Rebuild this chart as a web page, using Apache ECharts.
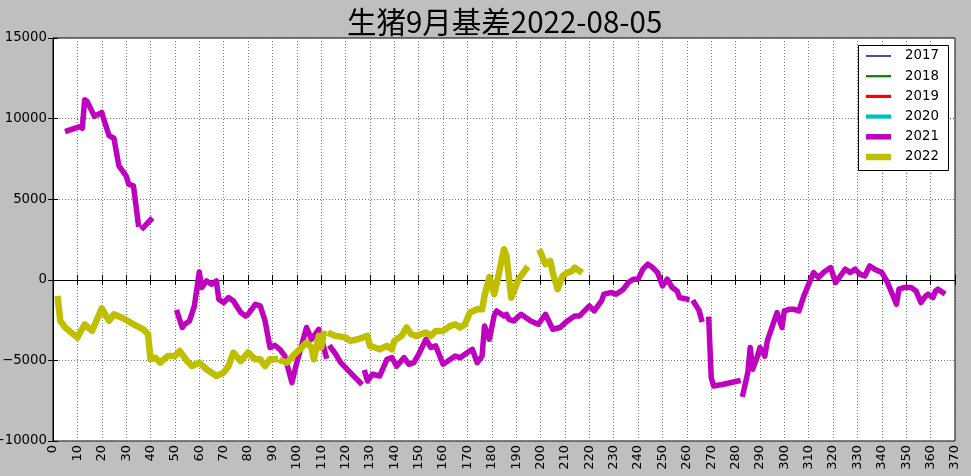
<!DOCTYPE html>
<html>
<head>
<meta charset="utf-8">
<title>生猪9月基差</title>
<script src="https://cdn.jsdelivr.net/npm/echarts@6/dist/echarts.min.js"></script>
<style>
    html, body { margin: 0; padding: 0; background: #bfbfbf; }
    #main { width: 971px; height: 476px; }
</style>
</head>
<body>
<div id="main"></div>
<script>
var titleText = '生猪9月基差2022-08-05';
var years = ['2017', '2018', '2019', '2020', '2021', '2022'];
var yearColors = ['#000080', '#008000', '#ff0000', '#00bfbf', '#bf00bf', '#bfbf00'];
var yearWidths = [1.4, 2.2, 3.2, 4.2, 5.5, 6.5];

// 2021 (null = no quote that day, line breaks)
var days2021 = [6, 11, 12, 13, 14, 17, 20, 21, 23, 25, 27, 28, 30, 31, 33, 35, 36, 37, 40, 45,
    51, 53, 54, 56, 58, 60, 61, 63, 65, 67, 68, 70, 72, 74, 77, 79, 80, 83, 85, 87, 89, 91, 93, 95, 96, 98,
    100, 104, 106, 109, 110, 112, 113, 114, 116, 118, 122, 126, 127, 128, 129, 131, 134, 137, 139, 141, 144,
    146, 148, 150, 153, 155, 157, 160, 162, 165, 167, 170, 172, 174, 176, 177, 179, 181, 182, 185, 186, 187,
    189, 192, 196, 199, 202, 205, 208, 211, 214, 216, 218, 220, 222, 225, 226, 229, 231, 234, 236, 238, 240,
    242, 244, 246, 248, 250, 252, 254, 256, 257, 260, 261, 263, 265, 266, 267, 269, 270, 271, 275, 281, 282,
    283, 285, 286, 287, 289, 290, 292, 293, 297, 299, 300, 302, 304, 306, 308, 310, 312, 314, 316, 319, 321,
    323, 325, 327, 329, 331, 333, 335, 337, 340, 342, 344, 346, 347, 349, 352, 354, 356, 358, 359, 361, 362,
    363, 365];
var basis2021 = [9250, 9500, 9400, 11170, 11070, 10140, 10390, 9870, 8940, 8780, 7070, 6870, 6450, 5940, 5830, 3450, null, 3240, 3710, null,
    -2030, -2960, -2760, -2550, -1620, 490, -480, -70, -270, -70, -1200, -1410, -1100, -1310, -2030, -2240, -2140, -1520, -1620, -2550, -4200, -4060, -4310, -4700, -5240, -6380,
    -5140, -2960, -3690, -3070, -3580, -4730, null, -4200, -4620, -5140, -5760, -6380, null, -5760, -6280, -5860, -5970, -4930, -4830, -5350, -4830,
    -5240, -5140, -4620, -3690, -4200, -4100, -5240, -5040, -4730, -4830, -4510, -4310, -5140, -4730, -2860, -3690, -2200, -1930, -2240, -2140, -2450,
    -2550, -2140, -2550, -2760, -2140, -3070, -2960, -2550, -2240, -2240, -1930, -1620, -1930, -1310, -890, -790, -890, -580, -170, 40, 40,
    660, 970, 760, 450, -380, 40, -480, -690, -1100, -1200, null, -1410, -1900, -2450, null, -2450, -6070, -6590, -6480, -6280, null,
    -7100, -5760, -4200, -5550, -4730, -4200, -4730, -3790, -2030, -2960, -1930, -1830, -1830, -1930, -1000, -270, 450, 140, 450, 760, -170,
    240, 660, 450, 660, 350, 240, 860, 660, 450, -70, -790, -1520, -580, -480, -480, -690, -1410, -1000, -890, -1100, -690,
    -580, -790];

// 2022
var days2022 = [2, 3, 5, 10, 13, 16, 20, 23, 25, 29, 33, 37, 39, 40, 42, 44, 47, 50, 52, 55, 57, 60, 63, 67, 70,
    72, 74, 77, 80, 83, 85, 87, 89, 91, 92, 94, 96, 99, 102, 104, 106, 107, 109, 110, 111, 112, 114, 116, 120,
    122, 125, 129, 130, 132, 134, 137, 139, 140, 143, 145, 147, 149, 153, 155, 157, 160, 163, 165, 167, 169,
    171, 174, 176, 177, 179, 181, 183, 185, 186, 188, 191, 194, 195, 200, 202, 204, 205, 207, 209, 211, 213,
    214, 216];
var basis2022 = [-1200, -2550, -2960, -3580, -2760, -3170, -1780, -2550, -2140, -2400, -2760, -3070, -3380, -4930, -4830, -5140, -4730, -4730, -4420, -5040, -5350, -5140, -5550, -5970, -5760,
    -5350, -4510, -5040, -4510, -4930, -4930, -5350, -4930, -4930, null, -5040, -5140, -4620, -4200, -3890, -4200, -4930, -3480, -4200, -3360, null, -3360, -3480, -3580,
    -3790, -3690, -3480, -4100, -4200, -4310, -4100, -4310, -3790, -3480, -2960, -3380, -3480, -3270, -3480, -3170, -3170, -2860, -2760, -2960, -2760,
    -2030, -1830, -1830, -1000, 170, -900, 450, 1900, 1480, -1100, 40, 660, null, 1700, 970, 1170, 450, -580, 240, 450, 550,
    760, 550];

var xMin = 0, xMax = 370, xStep = 10;
var yMin = -10000, yMax = 15000, yStep = 5000;

var seriesDays = [[], [], [], [], days2021, days2022];
var seriesBasis = [[], [], [], [], basis2021, basis2022];

function pairUp(xs, ys) {
    var out = [];
    for (var i = 0; i < xs.length; i++) {
        out.push([xs[i], ys[i] == null ? '-' : ys[i]]);
    }
    return out;
}

function fmtY(v) {
    return v < 0 ? '\u2212' + Math.abs(v) : String(v);
}

var chart = echarts.init(document.getElementById('main'));

var gridLine = { show: true, lineStyle: { color: '#7a7a7a', type: [1, 2], width: 1 } };

var series = [];
var legends = [];
for (var i = 0; i < years.length; i++) {
    series.push({
        name: years[i],
        type: 'line',
        data: pairUp(seriesDays[i], seriesBasis[i]),
        showSymbol: false,
        symbol: 'none',
        connectNulls: false,
        color: yearColors[i],
        lineStyle: { color: yearColors[i], width: yearWidths[i], cap: 'square', join: 'round' },
        emphasis: { disabled: true },
        z: 2 + i
    });
    // one legend per year so each swatch can carry its own line width
    legends.push({
        data: [years[i]],
        left: 866,
        top: 56 + 20.2 * i - 8,
        padding: 0,
        itemWidth: 25,
        itemHeight: yearWidths[i],
        icon: 'rect',
        selectedMode: false,
        textStyle: { fontFamily: 'DejaVu Sans', fontSize: 13.3, color: '#000', lineHeight: 16, padding: [0, 0, 0, 9] },
        z: 6
    });
}

var option = {
    animation: false,
    backgroundColor: '#bfbfbf',
    title: {
        text: titleText,
        left: 347,
        top: 3,
        padding: [4, 0, 4, 0],
        textStyle: { fontFamily: 'Noto Sans CJK SC', fontSize: 29.5, fontWeight: 'normal', color: '#000' }
    },
    legend: legends,
    graphic: [{
        type: 'rect',
        shape: { x: 858.5, y: 45.5, width: 90, height: 125 },
        style: { fill: '#fff', stroke: '#000', lineWidth: 1 },
        z: 5
    }],
    grid: {
        left: 53, right: 16, top: 38, bottom: 35,
        show: true, backgroundColor: '#fff', borderColor: '#000', borderWidth: 1,
        outerBoundsMode: 'none'
    },
    xAxis: [{
        type: 'value', min: xMin, max: xMax, interval: xStep,
        axisLine: { lineStyle: { color: '#000' } },
        axisTick: { inside: true, length: 5, lineStyle: { color: '#000' } },
        axisLabel: { rotate: 90, margin: 4, fontFamily: 'DejaVu Sans', fontSize: 13, color: '#000',
            showMinLabel: true, showMaxLabel: true, hideOverlap: false },
        splitLine: gridLine
    }, {
        type: 'value', position: 'top', min: xMin, max: xMax, interval: xStep,
        axisLine: { lineStyle: { color: '#000' } },
        axisTick: { inside: true, length: 5, lineStyle: { color: '#000' } },
        axisLabel: { show: false },
        splitLine: { show: false }
    }],
    yAxis: [{
        type: 'value', min: yMin, max: yMax, interval: yStep,
        axisLine: { show: true, lineStyle: { color: '#000' } },
        axisTick: { show: true, inside: true, length: 5, lineStyle: { color: '#000' } },
        axisLabel: { margin: 6, fontFamily: 'DejaVu Sans', fontSize: 13.3, color: '#000', formatter: fmtY,
            showMinLabel: true, showMaxLabel: true },
        splitLine: gridLine
    }, {
        type: 'value', position: 'right', min: yMin, max: yMax, interval: yStep,
        axisLine: { show: true, lineStyle: { color: '#000' } },
        axisTick: { show: true, inside: true, length: 5, lineStyle: { color: '#000' } },
        axisLabel: { show: false },
        splitLine: { show: false }
    }],
    series: series
};

chart.setOption(option);
</script>
</body>
</html>
